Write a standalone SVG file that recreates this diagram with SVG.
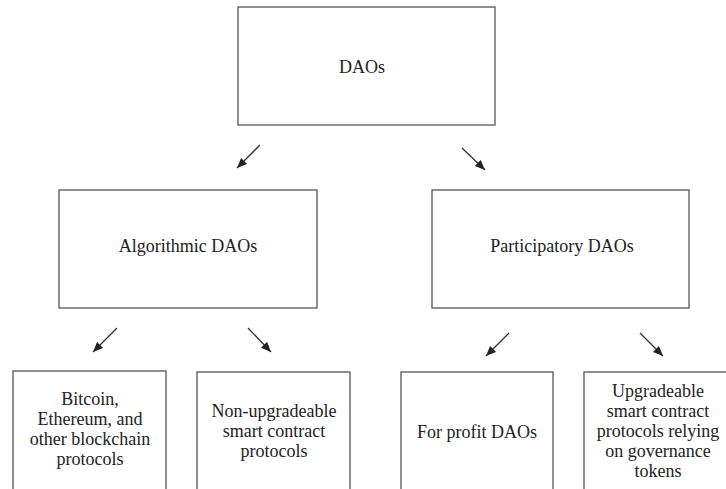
<svg xmlns="http://www.w3.org/2000/svg" width="726" height="489" viewBox="0 0 726 489">
<style>
.box{fill:#fff;stroke:#555;stroke-width:1.3}
.t{font-family:"Liberation Serif","Times New Roman",serif;font-size:18px;fill:#222;text-anchor:middle}
.c{stroke:#333;stroke-width:1.3;fill:none}
</style>
<defs>
<marker id="ah" markerUnits="userSpaceOnUse" markerWidth="10" markerHeight="10" viewBox="0 0 10 10" refX="10" refY="5" orient="auto">
<path d="M0,0.8 L10,5 L0,9.2 z" fill="#222"/>
</marker>
</defs>
<rect width="726" height="489" fill="#fff"/>
<g id="daos"><rect class="box" x="238" y="7" width="257" height="118"/><text class="t" x="362" y="73">DAOs</text></g>
<g id="algorithmic"><rect class="box" x="59" y="190" width="258" height="118"/><text class="t" x="188" y="252">Algorithmic DAOs</text></g>
<g id="participatory"><rect class="box" x="432" y="190" width="257" height="118"/><text class="t" x="562" y="252">Participatory DAOs</text></g>
<g id="bitcoin"><rect class="box" x="13" y="371" width="153" height="130"/><text class="t" x="90"><tspan x="90" y="405">Bitcoin,</tspan><tspan x="90" y="425">Ethereum, and</tspan><tspan x="90" y="445">other blockchain</tspan><tspan x="90" y="465">protocols</tspan></text></g>
<g id="nonupgradeable"><rect class="box" x="197" y="372" width="153" height="130"/><text class="t" x="274"><tspan x="274" y="417">Non-upgradeable</tspan><tspan x="274" y="437">smart contract</tspan><tspan x="274" y="457">protocols</tspan></text></g>
<g id="forprofit"><rect class="box" x="401" y="372" width="152" height="130"/><text class="t" x="477" y="438">For profit DAOs</text></g>
<g id="upgradeable"><rect class="box" x="584" y="372" width="153" height="130"/><text class="t" x="658"><tspan x="658" y="397">Upgradeable</tspan><tspan x="658" y="417">smart contract</tspan><tspan x="658" y="437">protocols relying</tspan><tspan x="658" y="457">on governance</tspan><tspan x="658" y="477">tokens</tspan></text></g>
<g id="connectors">
<line class="c" x1="260" y1="145" x2="237" y2="168" marker-end="url(#ah)"/>
<line class="c" x1="462" y1="148" x2="485" y2="170" marker-end="url(#ah)"/>
<line class="c" x1="117" y1="328" x2="93" y2="352" marker-end="url(#ah)"/>
<line class="c" x1="248" y1="328" x2="271" y2="352" marker-end="url(#ah)"/>
<line class="c" x1="509" y1="333" x2="486" y2="356" marker-end="url(#ah)"/>
<line class="c" x1="640" y1="333" x2="663" y2="356" marker-end="url(#ah)"/>
</g>
</svg>
